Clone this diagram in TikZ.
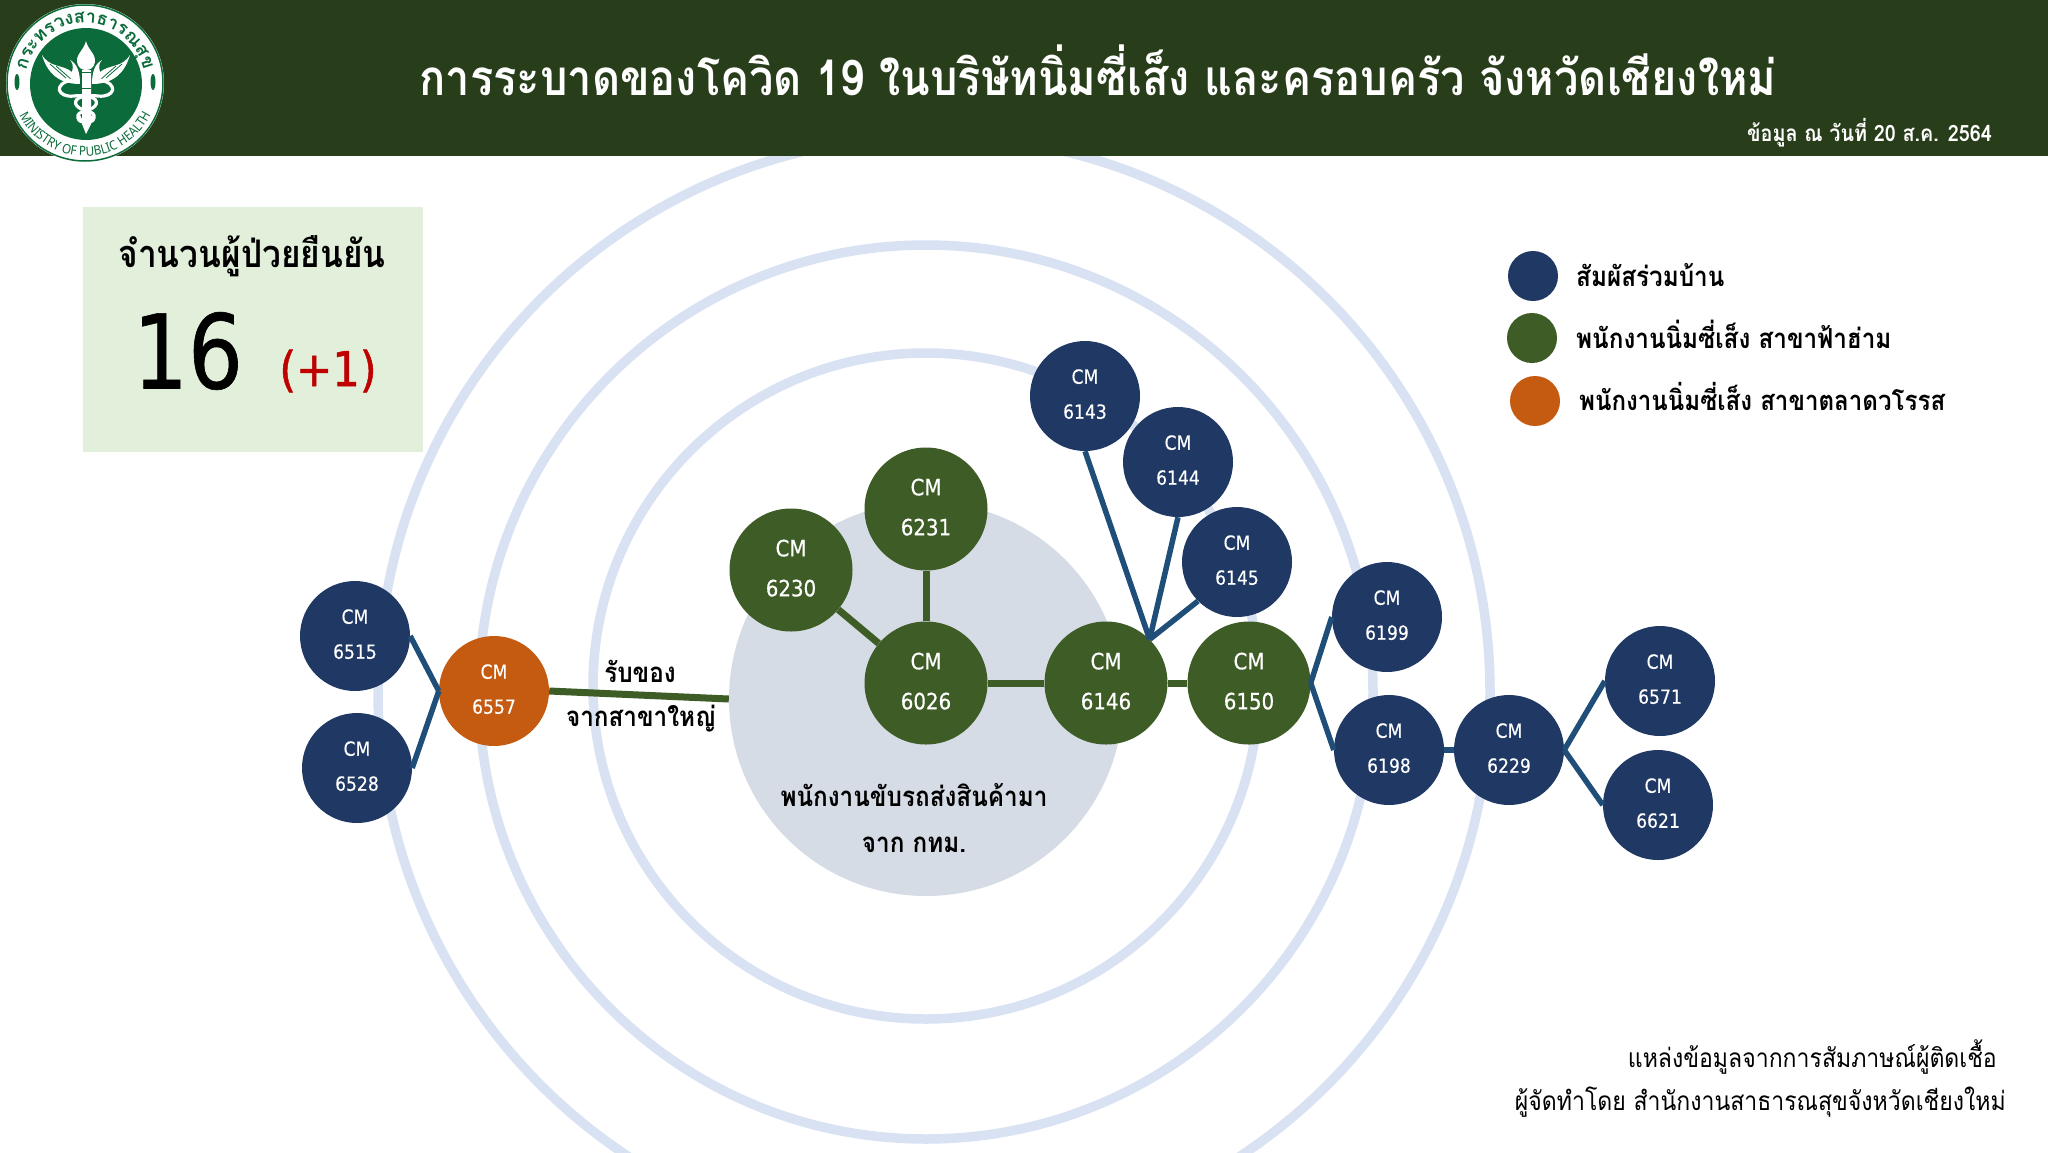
\documentclass[tikz,border=0pt]{standalone}
\usepackage{fontspec}
\setmainfont{DejaVu Sans}
\newfontfamily\thaifont[Script=Thai,FakeStretch=0.88]{Loma}
\newfontfamily\bubfont[FakeStretch=0.88,FakeBold=0.4]{DejaVu Sans}
\newfontfamily\bigfont[FakeStretch=0.84,FakeBold=0.6]{DejaVu Sans}
\newfontfamily\plusfont[FakeStretch=0.9,FakeBold=1]{DejaVu Sans}
\newfontfamily\logofont[FakeStretch=0.9]{Noto Sans}
\newfontfamily\logothai[Script=Thai]{Loma}
\usetikzlibrary{decorations.text}
\definecolor{hdr}{HTML}{283D1A}
\definecolor{navy}{HTML}{1F3864}
\definecolor{leaf}{HTML}{3E5C25}
\definecolor{rust}{HTML}{C55A11}
\definecolor{ringc}{HTML}{D9E2F3}
\definecolor{greyc}{HTML}{D6DCE5}
\definecolor{boxc}{HTML}{E2EFDA}
\definecolor{linkb}{HTML}{1F4E79}
\definecolor{logog}{HTML}{0B6B3A}
\tikzset{
  bub/.style={circle,inner sep=0pt,text=white,align=center,text depth=4pt,font=\bubfont\fontsize{19.5}{35}\selectfont},
  sm/.style={bub,minimum size=110},
  lg/.style={bub,minimum size=123,font=\bubfont\fontsize{22.5}{40}\selectfont},
  blue/.style={sm,fill=navy},
  grn/.style={lg,fill=leaf},
  org/.style={sm,fill=rust},
  lnk/.style={draw=linkb,line width=5.5},
  lng/.style={draw=leaf,line width=7},
  ring/.style={draw=ringc,line width=9.5},
  th/.style={font=\thaifont\bfseries\fontsize{#1}{#1}\selectfont,inner sep=0pt},
  thr/.style={font=\thaifont\fontsize{#1}{#1}\selectfont,inner sep=0pt},
  key/.style={circle,minimum size=50,inner sep=0pt},
  snake/.style={white,line width=3.2},
  feather/.style={logog,line width=0.8},
}
\begin{document}
\begin{tikzpicture}[x=1pt,y=-1pt]
\useasboundingbox (0,0) rectangle (2048,1152);
\fill[white] (0,0) rectangle (2048,1152);
\begin{scope}
\clip (0,0) rectangle (2048,1152);
\node[ring,circle,minimum size=666,inner sep=0pt] at (926,686) {};
\node[ring,circle,minimum size=894,inner sep=0pt] at (926,692) {};
\node[ring,circle,minimum size=1112,inner sep=0pt] at (934,692) {};
\end{scope}
\fill[hdr] (0,0) rectangle (2048,156);
% logo
\fill[white] (85,83) circle (79);
\draw[logog,line width=1.5] (85,83) circle (78);
\fill[logog] (86,84) circle (56);
\path[decorate,decoration={text along path,text align=center,text={|\logothai\bfseries\fontsize{18}{18}\selectfont\color{logog}|กระทรวงสาธารณ{สุ}ข}}] (85,83) ++(190:60) arc[start angle=190,end angle=350,radius=60];
\path[decorate,decoration={text along path,text align=center,text={|\logofont\bfseries\fontsize{13}{13}\selectfont\color{logog}|MINISTRY OF PUBLIC HEALTH}}] (85,83) ++(172:73) arc[start angle=172,end angle=8,radius=73];
\fill[logog] (17,82) ellipse (2.5 and 8);
\fill[logog] (153,82) ellipse (2.5 and 8);
% emblem
\fill[white] (86,41) .. controls (84,50) and (76,54) .. (77,62) .. controls (78,68) and (82,70) .. (86,70) .. controls (90,70) and (94,68) .. (95,62) .. controls (96,54) and (88,50) .. (86,41) -- cycle;
\fill[white] (82,70) rectangle (91,124) -- (91,124) -- (86,134) -- (82,124) -- cycle;
\fill[white] (42,55) .. controls (50,68) and (62,64) .. (72,72) .. controls (74,66) and (72,62) .. (70,60) .. controls (78,64) and (80,74) .. (80,84) .. controls (62,84) and (48,76) .. (42,55) -- cycle;
\fill[white] (130,55) .. controls (122,68) and (110,64) .. (100,72) .. controls (98,66) and (100,62) .. (102,60) .. controls (94,64) and (92,74) .. (92,84) .. controls (110,84) and (124,76) .. (130,55) -- cycle;
\draw[feather] (50,64) -- (66,78) (56,66) -- (72,80) (122,64) -- (106,78) (116,66) -- (100,80);
\draw[feather] (82,72) -- (91,72) (82,88) -- (91,88);
\draw[snake] (72,80) .. controls (52,84) and (58,98) .. (74,96) .. controls (92,94) and (100,100) .. (95,106) .. controls (90,112) and (76,110) .. (78,118) .. controls (79,124) and (92,124) .. (93,116);
\draw[snake] (100,80) .. controls (120,84) and (114,98) .. (98,96) .. controls (80,94) and (72,100) .. (77,106) .. controls (82,112) and (96,110) .. (94,118) .. controls (93,124) and (80,124) .. (79,116);
% stats box
\fill[boxc] (83,207) rectangle (423,452);
\node[th=49.3,text=white] (title) at (1098,70) {การระบาดของโควิด 19 ในบริษัทนิ่มซี่เส็ง และครอบครัว จังหวัดเชียงใหม่};
\node[th=22.5,text=white,anchor=east] (date) at (1992,133) {ข้อมูล ณ วันที่ 20 ส.ค. 2564};
\node[th=38] (stath) at (252,256) {จำนวนผู้ป่วยยืนยัน};
\node[font=\bigfont\fontsize{103}{103}\selectfont,inner sep=0pt] (sixteen) at (188,351) {16};
\node[font=\plusfont\fontsize{48}{48}\selectfont,text=red!75!black,inner sep=0pt] (plus) at (328,371) {(+1)};
% grey
\node[circle,fill=greyc,minimum size=394,inner sep=0pt] (core) at (926,699) {};
% nodes
\node[blue] (a6143) at (1085,396) {CM\\6143};
\node[blue] (a6144) at (1178,462) {CM\\6144};
\node[blue] (a6145) at (1237,562) {CM\\6145};
\node[grn] (a6146) at (1106,683) {CM\\6146};
\node[grn] (a6150) at (1249,683) {CM\\6150};
\node[grn] (a6026) at (926,683) {CM\\6026};
\node[grn] (a6230) at (791,570) {CM\\6230};
\node[grn] (a6231) at (926,509) {CM\\6231};
\node[blue] (a6199) at (1387,617) {CM\\6199};
\node[blue] (a6198) at (1389,750) {CM\\6198};
\node[blue] (a6229) at (1509,750) {CM\\6229};
\node[blue] (a6571) at (1660,681) {CM\\6571};
\node[blue] (a6621) at (1658,805) {CM\\6621};
\node[org] (a6557) at (494,691) {CM\\6557};
\node[blue] (a6515) at (355,636) {CM\\6515};
\node[blue] (a6528) at (357,768) {CM\\6528};
% links
\draw[lnk] (a6143.south) -- (a6146.45);
\draw[lnk] (a6144.south) -- (a6146.45);
\draw[lnk] (a6145.225) -- (a6146.45);
\draw[lnk] (a6150.east) -- (a6199.west);
\draw[lnk] (a6150.east) -- (a6198.west);
\draw[lnk] (a6198.east) -- (a6229.west);
\draw[lnk] (a6229.east) -- (a6571.west);
\draw[lnk] (a6229.east) -- (a6621.west);
\draw[lnk] (a6515.east) -- (a6557.west);
\draw[lnk] (a6528.east) -- (a6557.west);
\draw[lng] (a6557.east) -- (core.west);
\draw[lng] (a6230) -- (a6026);
\draw[lng] (a6231) -- (a6026);
\draw[lng] (a6026) -- (a6146);
\draw[lng] (a6146) -- (a6150);
% labels
\node[th=27.6] (l1) at (640,671) {รับของ};
\node[th=27.6] (l2) at (641,719) {จากสาขาใหญ่};
\node[th=27.6] (l3) at (914,795) {พนักงานขับรถส่งสินค้ามา};
\node[th=27.6] (l4) at (914,845) {จาก กทม.};
% legend
\node[key,fill=navy] (k1) at (1533,276) {};
\node[key,fill=leaf] (k2) at (1532,338) {};
\node[key,fill=rust] (k3) at (1535,401) {};
\node[th=27.6,anchor=west] (t1) at (1576,275) {สัมผัสร่วมบ้าน};
\node[th=27.6,anchor=west] (t2) at (1576,334) {พนักงานนิ่มซี่เส็ง สาขาฟ้าฮ่าม};
\node[th=27.4,anchor=west] (t3) at (1579,396) {พนักงานนิ่มซี่เส็ง สาขาตลาดวโรรส};
% footer
\node[thr=26.2,anchor=east] (f1) at (1997,1057) {แหล่งข้อมูลจากการสัมภาษณ์ผู้ติดเชื้อ};
\node[thr=26.2,anchor=east] (f2) at (2006,1102) {ผู้จัดทำโดย สำนักงานสาธารณสุขจังหวัดเชียงใหม่};
\end{tikzpicture}
\end{document}
